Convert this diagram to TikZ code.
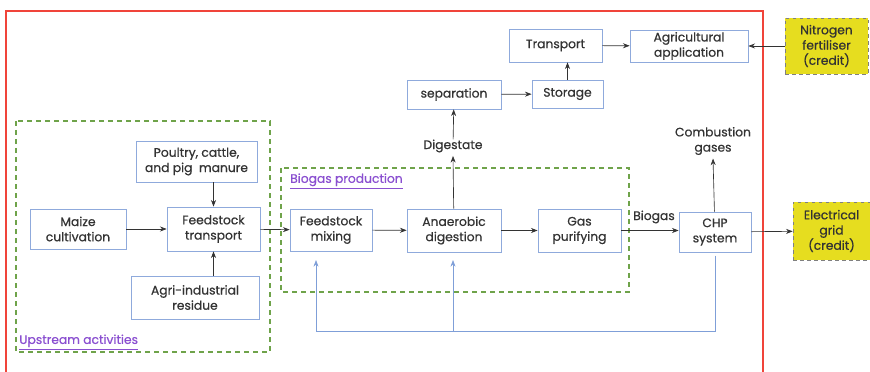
\documentclass[tikz,border=0pt]{standalone}
\usepackage{fontspec}
\setmainfont{Poppins}[FakeBold=0.6]
\usepackage{xcolor}
\usetikzlibrary{arrows.meta, positioning}
\definecolor{boxline}{HTML}{8FAADC}
\definecolor{textgray}{HTML}{333333}
\definecolor{zonegreen}{HTML}{6FA34A}
\definecolor{framered}{HTML}{F0443A}
\definecolor{creditfill}{HTML}{E6DD1F}
\definecolor{zonelabel}{HTML}{8A4FD0}
\definecolor{loopblue}{HTML}{7F9FD8}

\begin{document}
\begin{tikzpicture}[x=0.03cm, y=-0.03cm,
            every node/.style={
            text=textgray,
            font=\fontsize{10.5}{13}\selectfont,
            align=center,
            inner sep=0pt},
            box/.style={draw=boxline, line width=0.6pt, fill=white},
            credit/.style={draw=gray, dashed, line width=0.5pt, fill=creditfill},
            zone/.style={draw=zonegreen, line width=1pt, dash pattern=on 1.6mm off 1.1mm},
            tag/.style={text=zonelabel, anchor=west},
            flow/.style={draw=textgray, line width=0.55pt, -{Stealth[length=2mm, width=1.5mm]}},
            fb/.style={draw=loopblue, line width=0.6pt, -{Stealth[length=2mm, width=1.5mm]}},
            >=Stealth]
            \useasboundingbox (0,0) rectangle (870,372);
            % system boundary
            \draw[framered, line width=1.2pt] (6,372) -- (6,11) -- (763,11) -- (763,372);
            % zones
            \draw[zone] (16,121) rectangle (270,352);
            \draw[zone] (281,168) rectangle (629,292);
            \node[tag] (upz) at (19,342) {\underline{Upstream activities}};
            \node[tag] (bioz) at (290,181) {\underline{Biogas production}};
            % digestate line
            \node[box, minimum width=2.79cm, minimum height=0.99cm] (transp) at (555.5,45.5) {Transport};
            \node[box, minimum width=3.54cm, minimum height=0.96cm] (appl) at (689,46) {Agricultural\\application};
            \node[credit, minimum width=2.49cm, minimum height=1.68cm] (nitro) at (826.5,46) {Nitrogen\\fertiliser\\(credit)};
            \node[box, minimum width=2.82cm, minimum height=0.87cm] (sep) at (454,94.5) {separation};
            \node[box, minimum width=2.13cm, minimum height=0.84cm] (store) at (567.5,94) {Storage};
            \node (dig) at (453,146) {Digestate};
            \node (comb) at (713,141) {Combustion\\gases};
            % upstream
            \node[box, minimum width=3.63cm, minimum height=1.23cm] (manure) at (196.5,161.5) {Poultry, cattle,\\and pig\ \ manure};
            \node[box, minimum width=2.88cm, minimum height=1.2cm] (maize) at (78,229) {Maize\\cultivation};
            \node[box, minimum width=2.79cm, minimum height=1.32cm] (ftrans) at (213.5,229) {Feedstock\\transport};
            \node[box, minimum width=3.84cm, minimum height=1.29cm] (resid) at (195,297.5) {Agri-industrial\\residue};
            % biogas production
            \node[box, minimum width=2.46cm, minimum height=1.26cm] (mix) at (331,230) {Feedstock\\mixing};
            \node[box, minimum width=2.82cm, minimum height=1.29cm] (anaer) at (454,230.5) {Anaerobic\\digestion};
            \node[box, minimum width=2.49cm, minimum height=1.29cm] (purif) at (579.5,230.5) {Gas\\purifying};
            \node[box, minimum width=2.16cm, minimum height=1.2cm] (chp) at (715,232) {CHP\\system};
            \node[credit, minimum width=2.31cm, minimum height=1.74cm] (grid) at (831.5,231) {Electrical\\grid\\(credit)};
            \node (gas) at (654,217) {Biogas};
            % flows
            \draw[flow] (maize) -- (ftrans);
            \draw[flow] (manure.south -| ftrans) -- (ftrans);
            \draw[flow] (resid.north -| ftrans) -- (ftrans);
            \draw[flow] (ftrans) -- (mix);
            \draw[flow] (mix) -- (anaer);
            \draw[flow] (anaer) -- (purif);
            \draw[flow] (purif.east) -- (purif.east -| chp.west);
            \draw[flow] (chp) -- (grid);
            \draw[flow] (chp) -- ([yshift=-1mm]comb.south);
            \draw[flow] (anaer) -- ([yshift=-1mm]dig.south);
            \draw[flow] (dig) -- (sep);
            \draw[flow] (sep) -- (store);
            \draw[flow] (store.north) -- (store.north |- transp.south);
            \draw[flow] (transp) -- (appl);
            \draw[flow] (nitro) -- (appl);
            % heat returned to the digester
            \coordinate (mixin) at (316,260);
            \coordinate (digin) at (453,260);
            \coordinate (loop) at (316,331);
            \draw[fb] ([yshift=-1mm]chp.south) |- (loop) -- (mixin);
            \draw[fb] (digin |- loop) -- (digin);
        \end{tikzpicture}
\end{document}
